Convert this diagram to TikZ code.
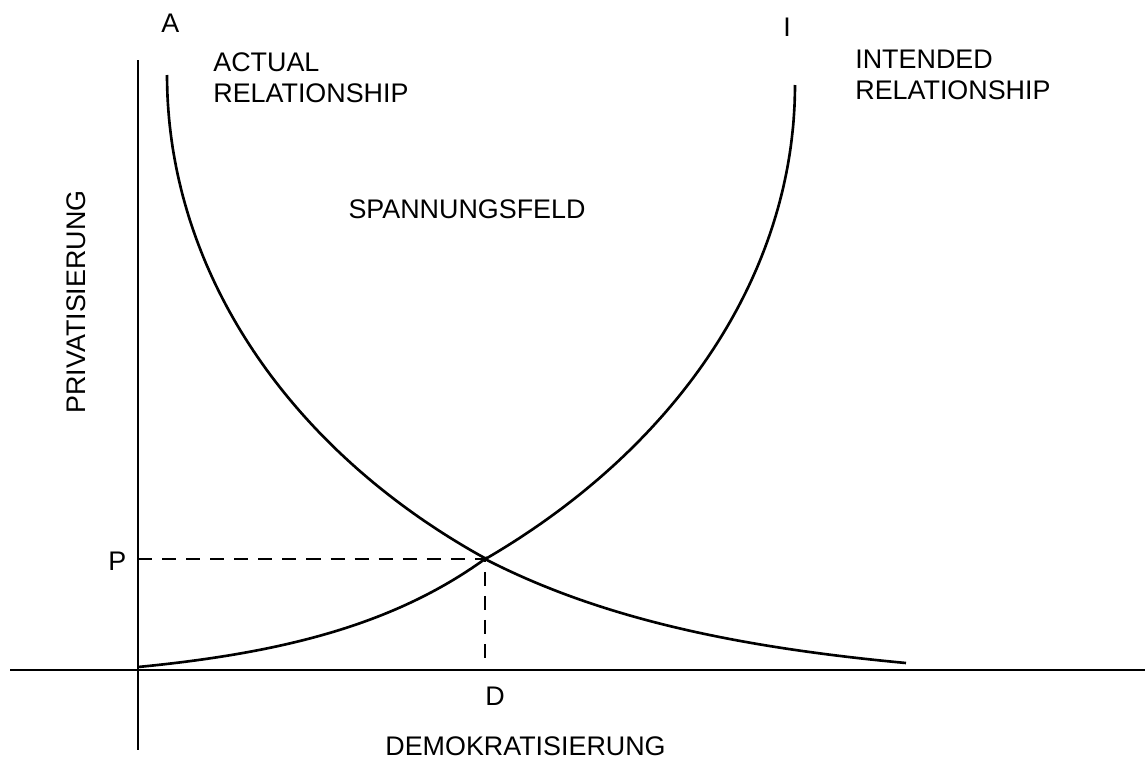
\documentclass[tikz,border=0pt]{standalone}
\usepackage{fontspec}
\setmainfont{Liberation Sans}
\usetikzlibrary{positioning}
\definecolor{ink}{HTML}{000000}

\begin{document}
\begin{tikzpicture}[x=0.02cm,y=-0.02cm,
    lbl/.style={inner sep=0pt,text=ink,font=\fontsize{15.3}{17.6}\selectfont},
    axis/.style={line width=1.5pt,draw=ink},
    curve/.style={line width=1.5pt,draw=ink,samples=80},
    guide/.style={line width=1.5pt,draw=ink,dash pattern=on 8pt off 5.7pt}]
  \useasboundingbox (0,0) rectangle (1145,758);

  % Axes
  \coordinate (O) at (138,670);
  \draw[axis] (10,670) -- (1145,670);
  \draw[axis] (138,60) -- (138,750);
  \node[lbl,anchor=base west] (demo) at (385,755) {DEMOKRATISIERUNG};
  \node[lbl,anchor=base,rotate=90] (priv) at (85,302) {PRIVATISIERUNG};

  % Actual relationship: elliptic arc down to the crossing, then decay
  \draw[curve] plot[domain=0:55.27] ({906-739*cos(\x)},{75+588*sin(\x)})
    -- plot[domain=347:768] ({138+\x},{685.9-126.9*exp(-(\x-347)/245.9)});
  \node[lbl,anchor=base west] (A) at (161,32) {A};
  \node[lbl,anchor=north west,align=left] (actual) at (213,52)
    {ACTUAL\\RELATIONSHIP};

  % Intended relationship: growth up to the crossing, then elliptic arc
  \draw[curve] plot[domain=0:347] ({138+\x},{683.8-16.8*exp(\x/173)})
    -- plot[domain=52.23:0] ({-5+800*cos(\x)},{85+600*sin(\x)});
  \node[lbl,anchor=base west] (I) at (783,36) {I};
  \node[lbl,anchor=north west,align=left] (intended) at (855,50)
    {INTENDED\\RELATIONSHIP};

  \node[lbl,anchor=base] (feld) at (467,218) {SPANNUNGSFELD};

  % Point where the two curves meet
  \coordinate (X) at (485,559);
  \draw[guide] (O |- X) -- (X);
  \draw[guide,dash phase=6.4pt] (X) -- (485,658);
  \node[lbl,anchor=base west] (P) at (108,570) {P};
  \node[lbl,anchor=base west] (D) at (485,705) {D};
\end{tikzpicture}
\end{document}
